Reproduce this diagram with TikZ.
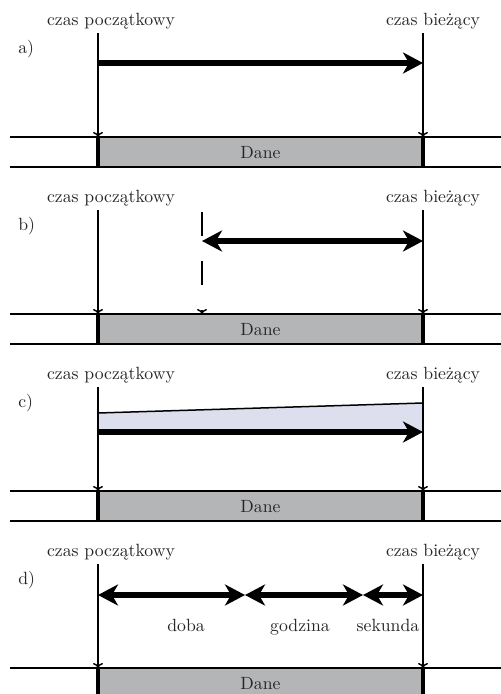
\documentclass[tikz,border=0pt]{standalone}
\usetikzlibrary{arrows.meta}
\definecolor{danegray}{RGB}{179,181,182}
\definecolor{lavender}{RGB}{221,223,238}
\tikzset{
  thinv/.style={line width=1.5pt},
  vline/.style={line width=1.5pt,-{Computer Modern Rightarrow[length=5pt,width=10pt]}},
  hline/.style={line width=2pt},
  edgeline/.style={line width=3.2pt},
  bigarrow/.style={line width=6.5pt,-{Stealth[length=20pt,width=21pt,inset=6pt]}},
  bigdouble/.style={line width=6.5pt,{Stealth[length=20pt,width=21pt,inset=6pt]}-{Stealth[length=20pt,width=21pt,inset=6pt]}},
  lbl/.style={scale=1.77,anchor=base,inner sep=0pt,text=black!85},
  plbl/.style={scale=1.77,anchor=base west,inner sep=0pt,text=black!85},
}
% common parts of one panel; y=0 is the upper band line
\newcommand\panelbase[2]{%
  \fill[danegray] (98,0) rectangle (423,30);
  \coordinate (l1#1) at (10,0); \coordinate (r1#1) at (505,0);
  \coordinate (l2#1) at (10,30); \coordinate (r2#1) at (505,30);
  \draw[hline] (l1#1) -- (r1#1);
  \draw[hline] (l2#1) -- (r2#1);
  \coordinate (el#1) at (98,30); \coordinate (er#1) at (423,30);
  \coordinate (s#1) at (98,-104); \coordinate (sb#1) at (98,0);
  \coordinate (e#1) at (423,-104); \coordinate (eb#1) at (423,0);
  \draw[edgeline] (sb#1) -- (el#1);
  \draw[edgeline] (eb#1) -- (er#1);
  \draw[vline] (s#1) -- (sb#1);
  \draw[vline] (e#1) -- (eb#1);
  \node[lbl] (dane#1) at (260.5,21) {Dane};
  \node[lbl] (start#1) at (111,-112) {czas początkowy};
  \node[lbl] (cur#1) at (433,-112) {czas bieżący};
  \node[plbl] (tag#1) at (18,-84) {#2)};
}
\begin{document}
\begin{tikzpicture}[x=1pt,y=-1pt]
\useasboundingbox (0,0) rectangle (501,694);
\clip (0,0) rectangle (501,694);
% a)
\begin{scope}[shift={(0,137)}]
  \panelbase{a}{a}
  \coordinate (aa1) at (98,-74); \coordinate (aa2) at (423,-74);
  \draw[bigarrow] (aa1) -- (aa2);
\end{scope}
% b)
\begin{scope}[shift={(0,314)}]
  \panelbase{b}{b}
  \coordinate (bd1) at (202,-102); \coordinate (bd2) at (202,0);
  \draw[thinv,dash pattern=on 24pt off 25pt,-{Computer Modern Rightarrow[length=5pt,width=10pt]}] (bd1) -- (bd2);
  \coordinate (ba1) at (202,-73); \coordinate (ba2) at (423,-73);
  \draw[bigdouble] (ba1) -- (ba2);
\end{scope}
% c)
\begin{scope}[shift={(0,491)}]
  \coordinate (ct1) at (98,-78); \coordinate (ct2) at (423,-88);
  \coordinate (cb1) at (98,-59); \coordinate (cb2) at (423,-59);
  \fill[lavender] (ct1) -- (ct2) -- (cb2) -- (cb1) -- cycle;
  \draw[thinv] (ct1) -- (ct2);
  \panelbase{c}{c}
  \draw[bigarrow] (cb1) -- (cb2);
\end{scope}
% d)
\begin{scope}[shift={(0,668)}]
  \panelbase{d}{d}
  \coordinate (d0) at (98,-73); \coordinate (d1) at (245,-73);
  \coordinate (d2) at (363,-73); \coordinate (d3) at (423,-73);
  \draw[bigdouble] (d0) -- (d1);
  \draw[bigdouble] (d1) -- (d2);
  \draw[bigdouble] (d2) -- (d3);
  \node[lbl] (doba) at (186,-37) {doba};
  \node[lbl] (godz) at (300,-37) {godzina};
  \node[lbl] (sek) at (388,-37) {sekunda};
\end{scope}
\end{tikzpicture}
\end{document}
